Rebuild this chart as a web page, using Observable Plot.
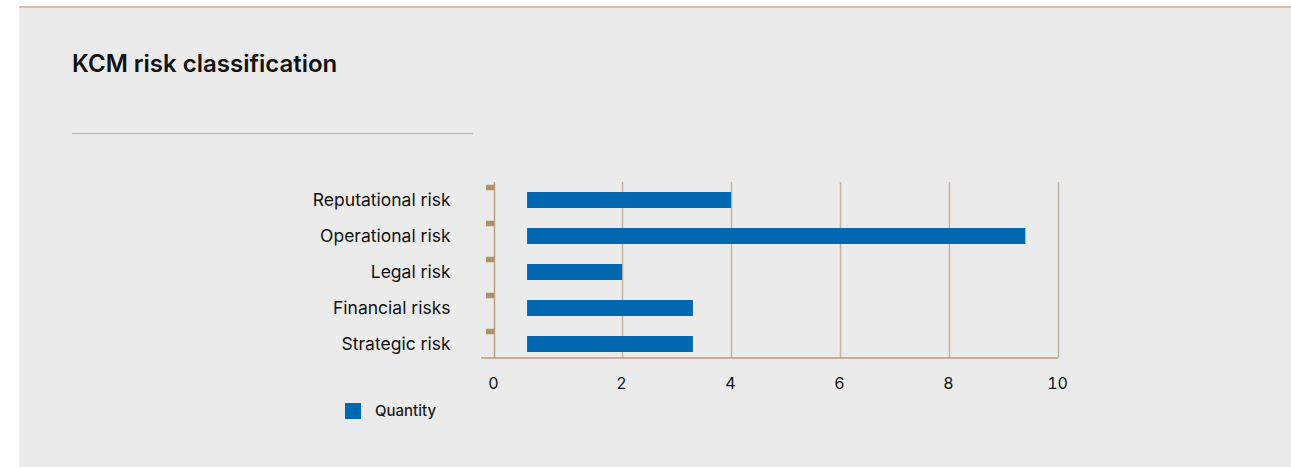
<!DOCTYPE html>
<html>
<head>
<meta charset="utf-8">
<script src="https://cdn.jsdelivr.net/npm/d3@7"></script>
<script src="https://cdn.jsdelivr.net/npm/@observablehq/plot@0.6"></script>
<style>
  html, body { margin: 0; padding: 0; background: #ffffff; }
  body { width: 1291px; height: 467px; position: relative; overflow: hidden; font-family: Inter, "Noto Sans", sans-serif; }
  .topline { position: absolute; left: 19px; top: 6px; width: 1272px; height: 2px; background: #d3c0ad; }
  .panel { position: absolute; left: 19px; top: 8px; width: 1272px; height: 459px; background: #ebebeb; }
  .title { position: absolute; left: 72px; top: 52px; font-size: 24px; line-height: 1; font-weight: 600; color: #111; white-space: nowrap; }
  .title-rule { position: absolute; left: 72px; top: 133px; width: 401px; height: 1px; background: #c6ad93; }
  #chart { position: absolute; left: 0; top: 0; }
  .legend { position: absolute; left: 345px; top: 401px; display: flex; align-items: center; font-size: 15px; font-weight: 500; color: #1a1a1a; }
  .legend .swatch { width: 16px; height: 16px; margin-right: 14px; }
</style>
</head>
<body>
<div class="topline"></div>
<div class="panel"></div>
<div class="title">KCM risk classification</div>
<div class="title-rule"></div>
<div id="chart"></div>
<div class="legend"><span class="swatch"></span><span>Quantity</span></div>
<script>
// Risk categories and number of identified risks in each
const categories = ["Reputational risk", "Operational risk", "Legal risk", "Financial risks", "Strategic risk"];
const quantities = [4, 9.4, 2, 3.3, 3.3];
const xTicks = [0, 2, 4, 6, 8, 10];
const seriesName = "Quantity";

const barColor = "#0067b1";
const axisColor = "#bd9c78";
const tickColor = "#b38f69";
const gridColor = "#c6b39d";

// The axis origin sits a little left of zero so the bars float off the axis line
const xMin = -0.35;

const data = categories.map((c, i) => ({category: c, value: quantities[i]}));

document.querySelector(".legend .swatch").style.background = barColor;
document.querySelector(".legend span:last-child").textContent = seriesName;

const chart = Plot.plot({
  width: 1291,
  height: 400,
  marginTop: 182,
  marginBottom: 42,
  marginLeft: 494,
  marginRight: 233,
  style: {background: "transparent", fontFamily: "Inter, 'Noto Sans', sans-serif", color: "#1a1a1a"},
  x: {domain: [xMin, 10]},
  y: {domain: categories, padding: 0, insetBottom: -4},
  marks: [
    Plot.gridX({ticks: xTicks.filter(d => d > 0), stroke: gridColor, strokeOpacity: 1, strokeWidth: 1.5}),
    Plot.barX(data, {x1: 0, x2: "value", y: "category", fill: barColor, insetLeft: 14, insetTop: 10, insetBottom: 10}),
    Plot.ruleX([xMin], {stroke: axisColor, strokeWidth: 1.5}),
    // bottom axis line, running slightly past the left axis
    (index, scales, values, dims) => {
      const y = dims.height - dims.marginBottom;
      const line = d3.create("svg:line")
        .attr("x1", dims.marginLeft - 13)
        .attr("x2", dims.width - dims.marginRight)
        .attr("y1", y).attr("y2", y)
        .attr("stroke", axisColor)
        .attr("stroke-width", 1.5);
      return line.node();
    },
    Plot.axisY({tickSize: 8, fill: "none", stroke: tickColor, strokeWidth: 5.5, dy: -13, label: null}),
    Plot.axisY({tickSize: 0, tickPadding: 44, fontSize: 17.5, fill: "#111", label: null}),
    Plot.axisX({
      ticks: xTicks.map(d => d === 0 ? xMin : d),
      tickFormat: d => d === xMin ? "0" : String(d),
      tickSize: 0, tickPadding: 19, fontSize: 16, dx: -1, fill: "#111", label: null
    })
  ]
});
document.getElementById("chart").appendChild(chart);
</script>
</body>
</html>
